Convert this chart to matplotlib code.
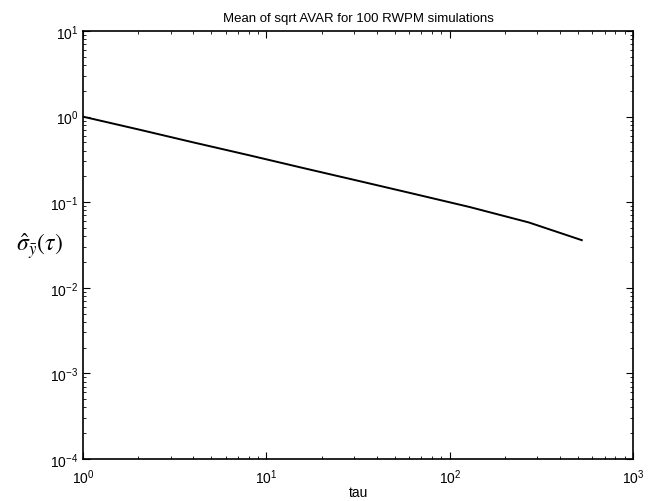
# Mean of sqrt AVAR for 100 RWPM simulations (log-log)
import matplotlib
matplotlib.use("Agg")
import matplotlib.pyplot as plt

# valores
tau = [1, 2, 4, 8, 16, 32, 64, 128, 270, 525]
sigma = [1.0, 0.71, 0.50, 0.355, 0.25, 0.177, 0.125, 0.088, 0.058, 0.036]

plt.rcParams['font.family'] = ['Liberation Sans', 'DejaVu Sans']
plt.rcParams['mathtext.fontset'] = 'stix'

fig = plt.figure(figsize=(6.54, 5.02), dpi=100)
ax = fig.add_axes([0.127, 0.084, 0.841, 0.852])

ax.loglog(tau, sigma, color='black', linewidth=1.4)

ax.set_xlim(1, 1000)
ax.set_ylim(1e-4, 10)
ax.tick_params(which='both', direction='in', top=True, right=True, labelsize=10)
ax.tick_params(which='major', length=5)
ax.tick_params(which='minor', length=2.5)
ax.tick_params(axis='x', pad=6)
for s in ax.spines.values():
    s.set_linewidth(1.2)

ax.set_title("Mean of sqrt AVAR for 100 RWPM simulations", fontsize=9.5, pad=7)
ax.set_xlabel("tau", fontsize=10, va='center')
ax.xaxis.set_label_coords(0.5, -0.077)
ax.set_ylabel(r"$\hat{\sigma}_{\bar{y}}(\tau)$", fontsize=17, rotation=0, va='center', ha='center')
ax.yaxis.set_label_coords(-0.08, 0.5)

fig.savefig("out.png", dpi=100)
